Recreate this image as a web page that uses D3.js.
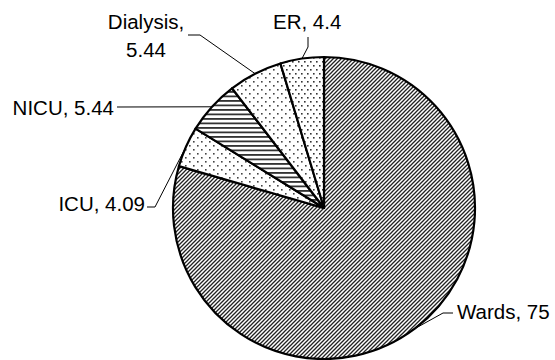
<!DOCTYPE html>
<html>
<head>
<meta charset="utf-8">
<script src="https://cdn.jsdelivr.net/npm/d3@7"></script>
<style>
  html, body { margin: 0; padding: 0; background: #fff; }
  svg { display: block; }
  text { font-family: "Liberation Sans", Arial, sans-serif; font-size: 20.5px; fill: #000; }
</style>
</head>
<body>
<script>
// Units, clockwise from 12 o'clock
const categories = ["Wards", "ICU", "NICU", "Dialysis", "ER"];
const values = [75, 4.09, 5.44, 5.44, 4.4];
const valueLabels = ["75", "4.09", "5.44", "5.44", "4.4"];

const W = 555, H = 360;
const cx = 324, cy = 208, R = 151;

const svg = d3.select("body").append("svg")
  .attr("width", W).attr("height", H);
svg.append("rect").attr("width", W).attr("height", H).attr("fill", "#fff");

const defs = svg.append("defs");

// upward diagonal hatching
const pDiag = defs.append("pattern").attr("id", "p-diag")
  .attr("patternUnits", "userSpaceOnUse").attr("width", 4).attr("height", 4);
pDiag.append("rect").attr("width", 4).attr("height", 4).attr("fill", "#fff");
pDiag.append("path").attr("d", "M-1,1 l2,-2 M0,4 l4,-4 M3,5 l2,-2")
  .attr("stroke", "#222").attr("stroke-width", 1.3);

// horizontal stripes
const pHoriz = defs.append("pattern").attr("id", "p-horiz")
  .attr("patternUnits", "userSpaceOnUse").attr("width", 8).attr("height", 4.5);
pHoriz.append("rect").attr("width", 8).attr("height", 4.5).attr("fill", "#fff");
pHoriz.append("rect").attr("y", 0).attr("width", 8).attr("height", 1.8).attr("fill", "#333");

// sparse dots
const pSparse = defs.append("pattern").attr("id", "p-sparse")
  .attr("patternUnits", "userSpaceOnUse").attr("width", 8).attr("height", 8);
pSparse.append("rect").attr("width", 8).attr("height", 8).attr("fill", "#fff");
pSparse.append("rect").attr("x", 1).attr("y", 1).attr("width", 1.6).attr("height", 1.6).attr("fill", "#444");
pSparse.append("rect").attr("x", 5).attr("y", 5).attr("width", 1.6).attr("height", 1.6).attr("fill", "#444");

// dense dots
const pDense = defs.append("pattern").attr("id", "p-dense")
  .attr("patternUnits", "userSpaceOnUse").attr("width", 6).attr("height", 8);
pDense.append("rect").attr("width", 6).attr("height", 8).attr("fill", "#fff");
pDense.append("rect").attr("x", 1).attr("y", 1).attr("width", 1.6).attr("height", 1.6).attr("fill", "#333");
pDense.append("rect").attr("x", 4).attr("y", 5).attr("width", 1.6).attr("height", 1.6).attr("fill", "#333");

const fills = d3.scaleOrdinal()
  .domain(categories)
  .range(["url(#p-diag)", "url(#p-sparse)", "url(#p-horiz)", "url(#p-sparse)", "url(#p-dense)"]);

const data = categories.map((c, i) => ({ category: c, value: values[i], label: valueLabels[i] }));

const pie = d3.pie().sort(null).value(d => d.value);
const arcs = pie(data);

const arc = d3.arc().innerRadius(0).outerRadius(R);
const rim = d3.arc().innerRadius(R).outerRadius(R);

const g = svg.append("g").attr("transform", `translate(${cx},${cy})`);

// label placement: text anchor, baseline, and elbow of each leader line
const labelLayout = {
  "Wards":    { x: 457, y: 319, anchor: "start",  lines: ["Wards, 75"], elbow: [[453, 313], [443, 313]] },
  "ICU":      { x: 145, y: 211, anchor: "end",    lines: ["ICU, 4.09"], elbow: [[147, 207], [155, 207]] },
  "NICU":     { x: 114, y: 115, anchor: "end",    lines: ["NICU, 5.44"], elbow: [[117, 107]] },
  "Dialysis": { x: 146, y: 29,  anchor: "middle", lines: ["Dialysis,", "5.44"], elbow: [[188, 35], [200, 35]] },
  "ER":       { x: 273, y: 29,  anchor: "start",  lines: ["ER, 4.4"], elbow: [[308, 37], [308, 47]] }
};

// leader lines, drawn beneath the pie so they stop at the rim
arcs.forEach(a => {
  const L = labelLayout[a.data.category];
  const end = rim.centroid(a);
  const pts = L.elbow.concat([[cx + end[0], cy + end[1]]]);
  svg.insert("path", "g")
    .attr("d", d3.line()(pts))
    .attr("fill", "none").attr("stroke", "#000").attr("stroke-width", 1);
});

g.selectAll("path.slice")
  .data(arcs)
  .join("path")
  .attr("class", "slice")
  .attr("d", arc)
  .attr("fill", d => fills(d.data.category))
  .attr("stroke", "#000")
  .attr("stroke-width", 2.2)
  .attr("stroke-linejoin", "round");

// labels
arcs.forEach(a => {
  const L = labelLayout[a.data.category];
  const t = svg.append("text")
    .attr("x", L.x).attr("y", L.y)
    .attr("text-anchor", L.anchor);
  L.lines.forEach((ln, i) => {
    t.append("tspan").attr("x", L.x).attr("dy", i === 0 ? 0 : 28).text(ln);
  });
});
</script>
</body>
</html>
